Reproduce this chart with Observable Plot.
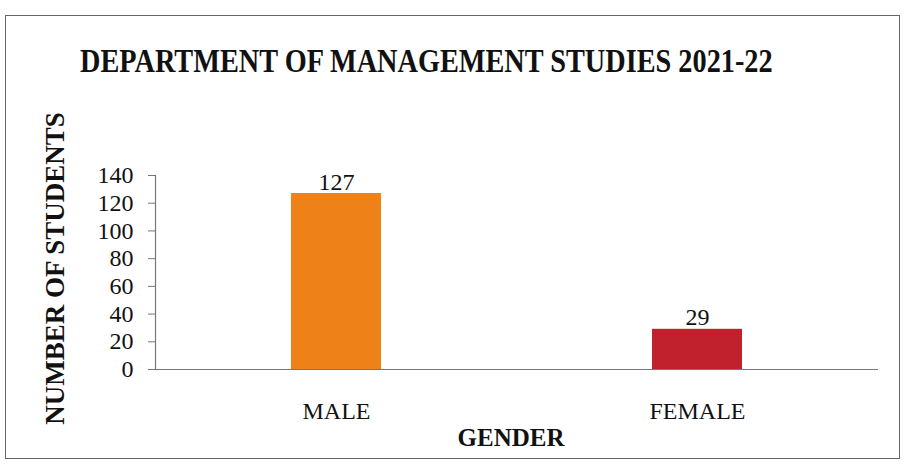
<!DOCTYPE html>
<html>
<head>
<meta charset="utf-8">
<script src="https://cdn.jsdelivr.net/npm/d3@7"></script>
<script src="https://cdn.jsdelivr.net/npm/@observablehq/plot@0.6"></script>
<style>
  html, body { margin: 0; padding: 0; background: #fff; width: 907px; height: 471px; overflow: hidden; }
  #frame { position: absolute; left: 5px; top: 15px; width: 895px; height: 444px; border: 1.5px solid #666; box-sizing: border-box; }
  #title { position: absolute; left: 80px; top: 44px; font-family: "Liberation Serif", "Times New Roman", serif; font-weight: bold; font-size: 34px; line-height: 34px; white-space: nowrap; color: #111; transform: scaleX(0.832); transform-origin: left top; }
  #chart { position: absolute; left: 0; top: 90px; }
  #chart svg { overflow: visible; }
</style>
</head>
<body>
<div id="frame"></div>
<div id="title">DEPARTMENT OF MANAGEMENT STUDIES 2021-22</div>
<div id="chart"></div>
<script>
const categories = ["MALE", "FEMALE"];
const values = [127, 29];
const colors = ["#ef8119", "#c1212d"];
const yTicks = [0, 20, 40, 60, 80, 100, 120, 140];
const xLabel = "GENDER";
const yLabel = "NUMBER OF STUDENTS";

const data = categories.map((c, i) => ({gender: c, count: values[i], color: colors[i]}));
const serif = '"Liberation Serif", "Times New Roman", serif';

const chart = Plot.plot({
  width: 907,
  height: 370,
  marginLeft: 155,
  marginRight: 29,
  marginTop: 85,
  marginBottom: 91,
  style: {fontFamily: serif, fontSize: "24px", color: "#111", background: "transparent", overflow: "visible"},
  x: {domain: categories, paddingInner: 0.75, paddingOuter: 0.375, label: null},
  y: {domain: [0, 140], label: null},
  marks: [
    Plot.barY(data, {x: "gender", y: "count", fill: "color"}),
    Plot.ruleY([0], {stroke: "#777", strokeWidth: 1.2, insetLeft: -7}),
    Plot.frame({anchor: "left", stroke: "#777", strokeWidth: 1.2}),
    Plot.axisY({ticks: yTicks, tickSize: 7, tickPadding: 15, stroke: "#777", fontSize: 24, label: null}),
    Plot.axisX({tickSize: 0, tickPadding: 32, fontSize: 24, label: null}),
    Plot.text(data, {x: "gender", y: "count", text: d => String(d.count), lineAnchor: "bottom", dy: -4, fontSize: 24}),
    Plot.text([xLabel], {frameAnchor: "bottom", textAnchor: "middle", dx: -6, dy: 68, lineAnchor: "middle", fontSize: 25, fontWeight: "bold"}),
    Plot.text([yLabel], {frameAnchor: "left", textAnchor: "middle", dx: -100, dy: -4, rotate: -90, lineAnchor: "middle", fontSize: 27, fontWeight: "bold"})
  ]
});
document.getElementById("chart").appendChild(chart);
</script>
</body>
</html>
